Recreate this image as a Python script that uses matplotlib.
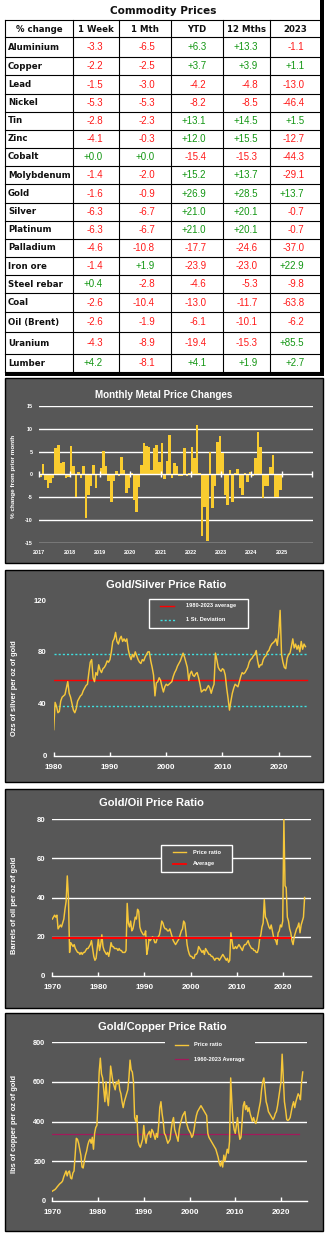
import numpy as np
import matplotlib
matplotlib.use("Agg")
import matplotlib.pyplot as plt
from matplotlib.patches import Rectangle

# ---------------- data ----------------
commodities = ["Aluminium", "Copper", "Lead", "Nickel", "Tin", "Zinc", "Cobalt",
               "Molybdenum", "Gold", "Silver", "Platinum", "Palladium", "Iron ore",
               "Steel rebar", "Coal", "Oil (Brent)", "Uranium", "Lumber"]
headers = ["% change", "1 Week", "1 Mth", "YTD", "12 Mths", "2023"]
chg_week = [-3.3, -2.2, -1.5, -5.3, -2.8, -4.1, 0.0, -1.4, -1.6, -6.3, -6.3, -4.6, -1.4, 0.4, -2.6, -2.6, -4.3, 4.2]
chg_month = [-6.5, -2.5, -3.0, -5.3, -2.3, -0.3, 0.0, -2.0, -0.9, -6.7, -6.7, -10.8, 1.9, -2.8, -10.4, -1.9, -8.9, -8.1]
chg_ytd = [6.3, 3.7, -4.2, -8.2, 13.1, 12.0, -15.4, 15.2, 26.9, 21.0, 21.0, -17.7, -23.9, -4.6, -13.0, -6.1, -19.4, 4.1]
chg_12m = [13.3, 3.9, -4.8, -8.5, 14.5, 15.5, -15.3, 13.7, 28.5, 20.1, 20.1, -24.6, -23.0, -5.3, -11.7, -10.1, -15.3, 1.9]
chg_2023 = [-1.1, 1.1, -13.0, -46.4, 1.5, -12.7, -44.3, -29.1, 13.7, -0.7, -0.7, -37.0, 22.9, -9.8, -63.8, -6.2, 85.5, 2.7]

# monthly metal price changes, Jan 2017 .. Dec 2024 (%)
monthly_start = 2017
monthly_chg = [
    -0.5, 2.2, -1.3, -3.0, -1.9, -0.7, 5.7, 6.4, 2.5, 2.7, -0.7, -0.6,      # 2017
    6.2, 1.9, -5.0, 0.5, -0.7, 1.8, -9.5, -4.5, -2.5, 2.0, -2.9, -0.2,      # 2018
    1.4, 5.1, 1.9, -1.5, -6.0, -1.4, 0.7, -0.3, 3.8, 1.0, -4.0, -2.9,       # 2019
    0.3, -5.6, -8.2, -2.8, 2.0, 6.9, 6.3, 6.0, 1.0, 5.8, 6.4, 2.8,          # 2020
    6.9, -0.9, 3.0, 8.6, -0.7, 2.6, 1.8, -0.4, -0.3, 5.7, -0.3, 0.3,        # 2021
    6.0, 3.5, 10.7, 0.3, -13.3, -7.0, -14.4, 4.9, -7.4, -2.4, 7.1, 8.4,     # 2022
    4.6, -4.4, -6.6, 0.9, -6.1, 0.3, 1.1, -2.9, -4.4, 0.3, -1.7, 0.5,       # 2023
    -0.4, 3.7, 9.3, 6.0, -5.1, -2.6, -2.4, 1.6, 4.2, -4.8, -4.8, -3.4,      # 2024
]
monthly_year_ticks = list(range(2017, 2027))
monthly_year_labels = list(range(2017, 2026))

# gold/silver ratio, quarterly from 1980
gs_start = 1980
gs_ratio = [
    20, 41, 38, 33,  34, 42, 45, 46,  47, 52, 57, 48,  45, 40, 35, 33,
    36, 42, 44, 46,  47, 50, 52, 54,  55, 64, 72, 74,  60, 57, 64, 62,
    70, 66, 64, 67,  68, 70, 73, 72,  74, 80, 88, 90,  95, 88, 86, 90,
    92, 88, 90, 88,  90, 82, 77, 74,  78, 76, 80, 77,  74, 72, 71, 74,
    73, 76, 78, 80,  80, 73, 68, 62,  46, 56, 57, 60,  58, 53, 49, 53,
    55, 54, 55, 56,  57, 61, 64, 66,  69, 71, 73, 76,  79, 76, 72, 68,
    58, 63, 65, 62,  61, 63, 64, 60,  55, 49, 50, 51,  50, 52, 54, 52,
    48, 52, 55, 79,  74, 68, 66, 65,  67, 66, 62, 52,  44, 35, 42, 48,
    52, 55, 54, 53,  57, 61, 64, 63,  64, 66, 68, 72,  74, 75, 77, 78,
    81, 73, 68, 70,  70, 74, 76, 77,  80, 81, 84, 86,  87, 88, 90, 85,
    95, 112, 78, 72,  68, 67, 75, 78,  79, 84, 90, 83,  86, 82, 85, 80,
    88, 82, 86, 84,
]
gs_avg = 58
gs_sd = 20
gs_avg_span = (1980, 2025)
gs_xticks = [1980, 1990, 2000, 2010, 2020]
gs_yticks = [0, 40, 80, 120]

# gold/oil ratio, quarterly from 1970
go_start = 1970
go_ratio = [
    29, 30, 31, 30,  31, 24, 25, 26,  25, 27, 29, 34,  38, 51, 40, 12,
    17, 16, 15, 16,  14, 13, 12, 12,  11, 12, 11, 12,  12, 13, 14, 14,
    15, 16, 18, 14,  10, 8, 9, 14,  19, 13, 16, 21,  15, 13, 12, 11,
    12, 10, 13, 17,  15, 15, 14, 14,  14, 13, 14, 13,  13, 12, 12, 12,
    13, 37, 27, 25,  28, 23, 24, 27,  30, 29, 34, 33,  25, 23, 22, 21,
    21, 23, 11, 14,  19, 18, 19, 20,  19, 17, 17, 19,  20, 21, 24, 28,
    27, 25, 24, 24,  23, 23, 24, 22,  20, 18, 17, 16,  17, 18, 19, 21,
    23, 24, 28, 27,  22, 16, 13, 11,  10, 10, 9, 9,  11, 11, 12, 15,
    14, 13, 12, 13,  11, 14, 13, 12,  11, 11, 10, 10,  9, 8, 9, 9,
    9, 8, 9, 10,  11, 10, 9, 8,  9, 7, 8, 22,  18, 14, 14, 15,
    14, 15, 16, 15,  14, 13, 15, 16,  16, 17, 18, 16,  15, 14, 14, 13,
    13, 12, 12, 14,  19, 21, 25, 27,  39, 30, 29, 27,  25, 24, 26, 23,
    20, 19, 18, 16,  22, 23, 26, 25,  28, 80, 46, 45,  30, 28, 24, 22,
    18, 16, 20, 22,  24, 25, 27, 22,  26, 28, 30, 40,
]
go_avg = 19.6
go_avg_span = (1970, 2021.5)
go_xticks = [1970, 1980, 1990, 2000, 2010, 2020]
go_yticks = [0, 20, 40, 60, 80]

# gold/copper ratio, quarterly from 1970
gc_start = 1970
gc_ratio = [
    48, 52, 55, 60,  68, 75, 82, 88,  92, 100, 120, 135,  150, 125, 145, 150,
    115, 110, 140, 150,  230, 315, 310, 290,  260, 230, 170, 165,  200, 230, 250, 280,
    300, 310, 290, 320,  260, 340, 370, 380,  500, 650, 720, 640,  620, 560, 500, 600,
    520, 480, 560, 680,  640, 600, 580, 560,  600, 590, 610, 560,  540, 500, 470, 500,
    520, 540, 560, 620,  710, 660, 650, 600,  420, 400, 430, 300,  280, 270, 290, 310,
    380, 320, 290, 330,  340, 350, 320, 360,  350, 330, 310, 340,  320, 380, 470, 500,
    440, 400, 340, 330,  310, 290, 300, 310,  360, 400, 420, 360,  340, 320, 300, 360,
    390, 410, 430, 440,  450, 400, 380, 360,  350, 340, 320, 330,  360, 400, 430, 450,
    460, 470, 480, 470,  460, 450, 440, 430,  340, 320, 310, 300,  290, 280, 270, 260,
    240, 220, 190, 175,  200, 170, 230, 200,  230, 260, 240, 300,  620, 500, 400, 360,
    340, 380, 420, 350,  310, 320, 400, 480,  500, 460, 480, 450,  470, 440, 420, 400,
    420, 400, 390, 410,  440, 470, 500, 560,  600, 620, 560, 500,  480, 450, 440, 430,
    420, 410, 420, 440,  450, 480, 520, 560,  600, 740, 620, 500,  460, 410, 405, 410,
    420, 450, 480, 500,  470, 500, 520, 540,  530, 510, 600, 650,
]
gc_avg = 335
gc_avg_span = (1970, 2024)
gc_xticks = [1970, 1980, 1990, 2000, 2010, 2020]
gc_yticks = [0, 200, 400, 600, 800]

# ---------------- style ----------------
W, H = 328, 1233
PANEL = "#575757"
BAR = "#F9CC2F"
LINE = "#F6C73A"
RED_T = "#FF1A1A"
GREEN_T = "#139613"
WHITE = "white"
BOLD = dict(family="Liberation Sans", weight="bold", color=WHITE)

fig = plt.figure(figsize=(W / 100, H / 100), dpi=100)
fig.patch.set_facecolor("white")


def rect(x0, y0, x1, y1):
    return [x0 / W, 1 - y1 / H, (x1 - x0) / W, (y1 - y0) / H]


bg = fig.add_axes([0, 0, 1, 1])
bg.set_xlim(0, W)
bg.set_ylim(H, 0)
bg.axis("off")

# ---------------- table ----------------
col_x = [5, 73, 119, 171, 223, 270, 320]
row_y = [20, 37, 56.5, 75, 93.5, 111.5, 129.5, 147.5, 165.5, 184, 202.5, 220.5,
         238.5, 256.5, 275, 293, 311.5, 332, 353.5, 372]
bg.text(163, 10.5, "Commodity Prices", ha="center", va="center",
        family="DejaVu Sans", weight="bold", fontsize=7.6, color="#111111")
for x in col_x[:-1]:
    bg.plot([x, x], [row_y[0], row_y[-1]], color="black", lw=0.8)
for y in row_y:
    bg.plot([col_x[0], col_x[-1]], [y, y], color="black", lw=0.8)
bg.add_patch(Rectangle((320, 0), 3.5, 375.5, color="black", lw=0))
bg.add_patch(Rectangle((5, 372), 318.5, 3.5, color="black", lw=0))

for j, h in enumerate(headers):
    bg.text((col_x[j] + col_x[j + 1]) / 2, (row_y[0] + row_y[1]) / 2 + 0.5, h,
            ha="center", va="center", family="DejaVu Sans", weight="bold",
            fontsize=6.2, color="#111111")
value_cols = [chg_week, chg_month, chg_ytd, chg_12m, chg_2023]
value_right = [103, 155, 206.5, 258, 304.5]
for i, name in enumerate(commodities):
    yc = (row_y[i + 1] + row_y[i + 2]) / 2 + 0.3
    bg.text(8, yc, name, ha="left", va="center", family="DejaVu Sans",
            weight="bold", fontsize=6.2, color="#111111")
    for vals, xr in zip(value_cols, value_right):
        v = vals[i]
        bg.text(xr, yc, f"{v:+.1f}", ha="right", va="center",
                family="Liberation Sans", fontsize=7,
                color=GREEN_T if v >= 0 else RED_T)

# ---------------- panel backgrounds ----------------
panels = [(5, 378, 323, 563), (5, 570, 323, 782), (5, 789, 323, 1008), (5, 1013, 323, 1231)]
for (x0, y0, x1, y1) in panels:
    bg.add_patch(Rectangle((x0, y0), x1 - x0, y1 - y0, facecolor=PANEL,
                           edgecolor="black", lw=1.0))


def style_axes(ax):
    ax.set_facecolor("none")
    for s in ax.spines.values():
        s.set_visible(False)


# ---------------- chart 1: monthly bars ----------------
ax1 = fig.add_axes(rect(39.3, 405.7, 313.3, 543.3))
style_axes(ax1)
mx = monthly_start + np.arange(len(monthly_chg)) / 12.0
ax1.set_xlim(2017, 2026.04)
ax1.set_ylim(-15, 15)
for g in [-15, -10, -5, 5, 10, 15]:
    ax1.axhline(g, color=WHITE, lw=1.0, zorder=1)
ax1.bar(mx, monthly_chg, width=1 / 12.0, align="edge", color=BAR, lw=0, zorder=2)
ax1.axhline(0, color=WHITE, lw=1.0, zorder=3)
ax1.plot(monthly_year_ticks, [0] * len(monthly_year_ticks), ls="none", marker="|",
         ms=4, mew=1.0, color=WHITE, zorder=3, clip_on=False)
ax1.set_yticks([-15, -10, -5, 0, 5, 10, 15])
ax1.set_yticklabels([str(v) for v in [-15, -10, -5, 0, 5, 10, 15]],
                    fontsize=3.9, fontweight="bold", color=WHITE, family="Liberation Sans")
ax1.set_xticks(monthly_year_labels)
ax1.set_xticklabels([str(v) for v in monthly_year_labels], fontsize=4.0,
                    fontweight="bold", color=WHITE, family="Liberation Sans")
ax1.tick_params(axis="both", length=0)
ax1.tick_params(axis="y", pad=5)
ax1.tick_params(axis="x", pad=4.5)
bg.text(14, 476, "% change from prior month", rotation=90, ha="center", va="center",
        fontsize=4.6, **BOLD)
bg.text(163.7, 395, "Monthly Metal Price Changes", ha="center", va="center",
        fontsize=7.1, **BOLD)


def line_axes(box, xlim, ylim, xticks, yticks, grid):
    ax = fig.add_axes(rect(*box))
    style_axes(ax)
    ax.set_xlim(*xlim)
    ax.set_ylim(*ylim)
    for g in grid:
        ax.axhline(g, color=WHITE, lw=1.0, zorder=1)
    ax.spines["bottom"].set_visible(True)
    ax.spines["bottom"].set_color(WHITE)
    ax.spines["bottom"].set_linewidth(1.0)
    ax.set_xticks(xticks)
    ax.set_xticklabels([str(v) for v in xticks], fontsize=5.9, fontweight="bold",
                       color=WHITE, family="Liberation Sans")
    ax.set_yticks(yticks)
    ax.set_yticklabels([str(v) for v in yticks], fontsize=5.6, fontweight="bold",
                       color=WHITE, family="Liberation Sans")
    ax.tick_params(axis="x", direction="in", length=3, width=1.0, color=WHITE, pad=6)
    ax.tick_params(axis="y", length=0, pad=5)
    return ax


# ---------------- chart 2: gold/silver ----------------
ax2 = line_axes((53.7, 600, 310, 755.5), (1980, 2025.56), (0, 120), gs_xticks, gs_yticks, [])
gx = gs_start + np.arange(len(gs_ratio)) * 0.25
ax2.plot(gs_avg_span, [gs_avg, gs_avg], color="#FF0000", lw=1.0, zorder=2)
for v in (gs_avg - gs_sd, gs_avg + gs_sd):
    ax2.plot(gs_avg_span, [v, v], color="#3FE0E0", lw=1.0, ls=(0, (1.5, 1.5)), zorder=2)
ax2.plot(gx, gs_ratio, color=LINE, lw=1.05, zorder=3)
bg.text(166, 584.5, "Gold/Silver Price Ratio", ha="center", va="center", fontsize=8, **BOLD)
bg.text(15, 688, "Ozs of silver per oz of gold", rotation=90, ha="center", va="center",
        fontsize=5.4, **BOLD)

# ---------------- chart 3: gold/oil ----------------
ax3 = line_axes((52.3, 819, 310.7, 976), (1970, 2026.07), (0, 80), go_xticks, go_yticks,
                [20, 40, 60, 80])
ox = go_start + np.arange(len(go_ratio)) * 0.25
ax3.plot(ox, go_ratio, color=LINE, lw=1.05, zorder=3)
ax3.plot(go_avg_span, [go_avg, go_avg], color="#FF0000", lw=1.5, zorder=4)
bg.text(151, 803, "Gold/Oil Price Ratio", ha="center", va="center", fontsize=8, **BOLD)
bg.text(15, 905, "Barrels of oil per oz of gold", rotation=90, ha="center", va="center",
        fontsize=5.4, **BOLD)

# ---------------- chart 4: gold/copper ----------------
ax4 = line_axes((52.3, 1042.3, 307.3, 1200.7), (1970, 2025.75), (0, 800), gc_xticks,
                gc_yticks, [200, 400, 600, 800])
cx = gc_start + np.arange(len(gc_ratio)) * 0.25
ax4.plot(gc_avg_span, [gc_avg, gc_avg], color="#A3195B", lw=0.9, zorder=2)
ax4.plot(cx, gc_ratio, color=LINE, lw=1.05, zorder=3)
for lab in ax4.get_yticklabels():
    lab.set_fontsize(5.3)
bg.text(162.5, 1027, "Gold/Copper Price Ratio", ha="center", va="center", fontsize=8, **BOLD)
bg.text(15, 1124, "lbs of copper per oz of gold", rotation=90, ha="center", va="center",
        fontsize=5.4, **BOLD)

# ---------------- overlay: legends ----------------
ov = fig.add_axes([0, 0, 1, 1])
ov.set_facecolor("none")
ov.set_xlim(0, W)
ov.set_ylim(H, 0)
ov.axis("off")
LEG = dict(fontsize=4.1, ha="left", va="center", **BOLD)

ov.add_patch(Rectangle((149, 599), 99, 29, facecolor=PANEL, edgecolor=WHITE, lw=1.0))
ov.plot([160, 174], [606, 606], color="#FF0000", lw=1.0)
ov.text(186, 606, "1980-2023 average", **LEG)
ov.plot([160, 175], [619.7, 619.7], color="#3FE0E0", lw=1.0, ls=(0, (1.5, 1.5)))
ov.text(186, 619.7, "1 St. Deviation", **LEG)

ov.add_patch(Rectangle((161, 845), 71, 27, facecolor=PANEL, edgecolor=WHITE, lw=1.0))
ov.plot([173, 186], [852, 852], color=LINE, lw=1.0)
ov.text(193, 852, "Price ratio", **LEG)
ov.plot([173, 186], [864, 864], color="#FF0000", lw=1.3)
ov.text(193, 864, "Average", **LEG)

ov.add_patch(Rectangle((165, 1036), 90, 28, facecolor=PANEL, edgecolor="none", lw=0))
ov.plot([175, 188], [1045, 1045], color=LINE, lw=1.0)
ov.text(194, 1045, "Price ratio", **LEG)
ov.plot([175, 188], [1059, 1059], color="#A3195B", lw=0.9)
ov.text(194, 1059, "1960-2023 Average", **LEG)

fig.savefig("out.png", dpi=100, facecolor="white")
